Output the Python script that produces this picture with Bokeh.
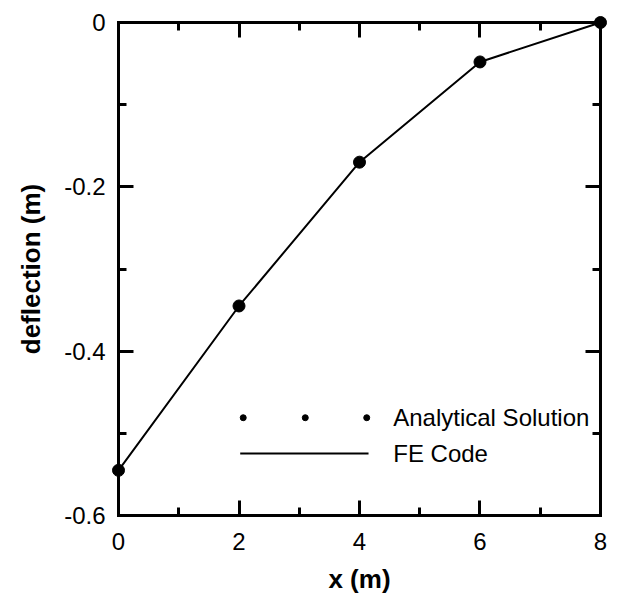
from bokeh.plotting import figure
from bokeh.models import Range1d, LinearAxis, FixedTicker, ColumnDataSource
from bokeh.core.properties import value
from bokeh.embed import file_html
from bokeh.resources import INLINE

# Beam deflection along the span
x_pos = [0, 2, 4, 6, 8]
deflection = [-0.545, -0.345, -0.17, -0.048, 0.0]

x_ticks = [0, 2, 4, 6, 8]
x_minor = [1, 3, 5, 7]
y_ticks = [-0.6, -0.4, -0.2, 0.0]
y_minor = [-0.5, -0.3, -0.1]
y_tick_labels = ["-0.6", "-0.4", "-0.2", "0"]
x_lo, x_hi = 0, 8
y_lo, y_hi = -0.6, 0.0

# Legend layout (in data units, inside the lower right of the box)
legend_dot_x = [2.07, 3.10, 4.12]
legend_dot_y = -0.481
legend_line_x = [2.02, 4.15]
legend_line_y = -0.5245
legend_text_x = 4.56
legend_labels = ["Analytical Solution", "FE Code"]

FONT = "Liberation Sans"

# A little room around the axis box so end markers are not cut off
x_pad = 0.133
y_pad = 0.00974

p = figure(width=625, height=614, output_backend="svg", toolbar_location=None,
           x_range=Range1d(x_lo - x_pad, x_hi + x_pad),
           y_range=Range1d(y_lo - y_pad, y_hi + y_pad),
           x_axis_location=None, y_axis_location=None,
           min_border_left=110, min_border_right=17,
           min_border_top=14, min_border_bottom=91)
p.grid.visible = False
p.background_fill_color = "white"
p.border_fill_color = "white"
p.outline_line_color = None


def box_axis(ticks, minor, bounds, loc):
    """Axis line with inward ticks, pinned to one edge of the data box."""
    ax = LinearAxis()
    ax.ticker = FixedTicker(ticks=ticks, minor_ticks=minor)
    ax.bounds = bounds
    ax.fixed_location = loc
    ax.axis_line_width = 3
    ax.axis_line_color = "black"
    ax.axis_line_cap = "square"
    ax.major_tick_in = 15
    ax.major_tick_out = 0
    ax.minor_tick_in = 8
    ax.minor_tick_out = 0
    ax.major_tick_line_width = 3
    ax.minor_tick_line_width = 3
    ax.major_label_text_font_size = "0px"
    ax.major_label_standoff = 0
    ax.major_label_text_color = None
    return ax


def label_axis(ticks, title, standoff, title_standoff):
    """Tick labels and title only, no line or ticks."""
    ax = LinearAxis(axis_label=title)
    ax.ticker = FixedTicker(ticks=ticks, minor_ticks=[])
    ax.axis_line_color = None
    ax.major_tick_line_color = None
    ax.minor_tick_line_color = None
    ax.major_tick_in = 0
    ax.major_tick_out = 0
    ax.minor_tick_in = 0
    ax.minor_tick_out = 0
    ax.major_label_text_font = FONT
    ax.major_label_text_font_size = "24px"
    ax.major_label_text_color = "black"
    ax.major_label_standoff = standoff
    ax.axis_label_text_font = FONT
    ax.axis_label_text_font_size = "26px"
    ax.axis_label_text_font_style = "bold"
    ax.axis_label_text_color = "black"
    ax.axis_label_standoff = title_standoff
    return ax


p.add_layout(box_axis(x_ticks, x_minor, (x_lo, x_hi), y_lo), "below")
p.add_layout(box_axis(y_ticks, y_minor, (y_lo, y_hi), x_lo), "left")
p.add_layout(box_axis(x_ticks, x_minor, (x_lo, x_hi), y_hi), "above")
p.add_layout(box_axis(y_ticks, y_minor, (y_lo, y_hi), x_hi), "right")

xb = label_axis(x_ticks, "x (m)", 9, 11)
p.add_layout(xb, "below")

yl = label_axis(y_ticks, "deflection (m)", 5, 15)
yl.major_label_overrides = {t: s for t, s in zip(y_ticks, y_tick_labels)}
p.add_layout(yl, "left")

src = ColumnDataSource(dict(x=x_pos, y=deflection))
p.line("x", "y", source=src, line_color="black", line_width=2)
p.scatter("x", "y", source=src, size=12, fill_color="black", line_color="black")

# Legend samples
p.scatter(legend_dot_x, [legend_dot_y] * len(legend_dot_x), size=6,
          fill_color="black", line_color="black")
p.line(legend_line_x, [legend_line_y] * 2, line_color="black", line_width=2)
p.text([legend_text_x] * 2, [legend_dot_y, legend_line_y], text=legend_labels,
       text_font=value(FONT), text_font_size="24px", text_color="black",
       text_baseline="middle", text_align="left")

open("out.html", "w").write(file_html(p, INLINE))
